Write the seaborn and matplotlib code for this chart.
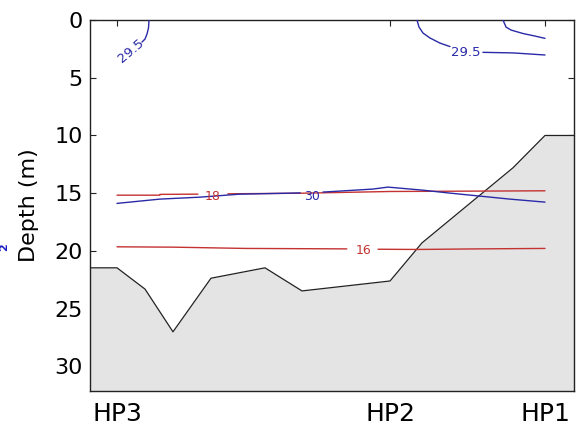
import numpy as np
import pandas as pd
import matplotlib
matplotlib.use("Agg")
import matplotlib.pyplot as plt
import seaborn as sns

# ---------------- data ----------------
station_names = ["HP3", "HP2", "HP1"]
station_x = [0.0, 6.379, 10.0]

# bathymetry (bottom profile)
bathy_x = [-0.631, 0.0, 0.654, 1.308, 2.196, 3.458, 4.322, 6.379, 7.126, 7.780, 9.252, 10.0, 10.678]
bathy_depth = [21.46, 21.46, 23.3, 27.0, 22.36, 21.46, 23.46, 22.6, 19.3, 17.3, 12.8, 10.0, 10.0]

# temperature contours (red)
t18_left_x = [0.0, 1.0, 1.005, 1.89]
t18_left_d = [15.17, 15.17, 15.10, 15.08]
t18_right_x = [2.59, 4.3, 6.38, 10.0]
t18_right_d = [15.05, 15.0, 14.85, 14.79]

t16_left_x = [0.0, 1.31, 2.99, 5.37]
t16_left_d = [19.64, 19.67, 19.78, 19.82]
t16_right_x = [6.10, 7.01, 8.44, 10.0]
t16_right_d = [19.85, 19.87, 19.82, 19.78]

# salinity contours (blue)
s30_left_x = [0.0, 1.0, 1.94, 2.87, 4.11, 4.28]
s30_left_d = [15.88, 15.51, 15.34, 15.08, 14.99, 14.97]
s30_right_x = [4.81, 4.91, 5.98, 6.33, 7.13, 7.78, 8.48, 9.18, 10.0]
s30_right_d = [14.90, 14.88, 14.64, 14.47, 14.73, 14.99, 15.25, 15.51, 15.77]

s295a_x = [0.748, 0.736, 0.701, 0.654, 0.584]
s295a_d = [0.0, 0.69, 1.21, 1.65, 1.91]

s295b_left_x = [7.009, 7.056, 7.150, 7.313, 7.547, 7.780]
s295b_left_d = [0.0, 0.61, 1.13, 1.56, 2.0, 2.3]
s295b_right_x = [8.55, 9.252, 10.0]
s295b_right_d = [2.8, 2.85, 3.03]

s295c_x = [9.019, 9.089, 9.206, 9.486, 9.766, 10.0]
s295c_d = [0.0, 0.61, 0.87, 1.17, 1.39, 1.59]

labels_text = ["18", "30", "16", "29.5", "29.5"]
labels_x = [2.24, 4.55, 5.75, 8.15, 0.33]
labels_d = [15.30, 15.25, 19.93, 2.85, 2.69]
labels_rot = [0, 0, 0, 0, 40]

# ---------------- style ----------------
BLUE = "#2a2aa8"
RED = "#c43232"
FILL = "#e4e4e4"

sns.set_theme(style="ticks", rc={
    "xtick.direction": "in", "ytick.direction": "in",
    "xtick.top": True, "ytick.right": True,
    "xtick.major.size": 4, "ytick.major.size": 4,
    "xtick.major.width": 0.8, "ytick.major.width": 0.8,
    "axes.edgecolor": "#222222", "axes.linewidth": 1.0,
})
plt.rcParams["font.family"] = ["DejaVu Sans"]

fig = plt.figure(figsize=(5.82, 4.34), dpi=100)
ax = fig.add_axes([90 / 582, 1 - 390.7 / 434, (574 - 90) / 582, (390.7 - 20) / 434])
ax.set_axisbelow(True)

# bottom fill
ax.fill_between(bathy_x, bathy_depth, 40, color=FILL, linewidth=0, zorder=1)
sns.lineplot(x=bathy_x, y=bathy_depth, ax=ax, color="#222222", linewidth=0.9,
             sort=False, estimator=None, zorder=2)

segments = [
    (t18_left_x, t18_left_d, RED), (t18_right_x, t18_right_d, RED),
    (t16_left_x, t16_left_d, RED), (t16_right_x, t16_right_d, RED),
    (s30_left_x, s30_left_d, BLUE), (s30_right_x, s30_right_d, BLUE),
    (s295a_x, s295a_d, BLUE),
    (s295b_left_x, s295b_left_d, BLUE), (s295b_right_x, s295b_right_d, BLUE),
    (s295c_x, s295c_d, BLUE),
]
for xs, ds, c in segments:
    sns.lineplot(x=xs, y=ds, ax=ax, color=c, linewidth=1.0, sort=False,
                 estimator=None, zorder=3)

label_colors = [RED, BLUE, RED, BLUE, BLUE]
label_sizes = [9, 9, 9, 9.5, 9.5]
for t, x, d, r, c, fs in zip(labels_text, labels_x, labels_d, labels_rot,
                             label_colors, label_sizes):
    ax.text(x, d, t, color=c, fontsize=fs, ha="center", va="center",
            rotation=r, zorder=4)

ax.set_xlim(-0.631, 10.678)
ax.set_ylim(32.1, 0)
ax.set_xticks(station_x)
ax.set_xticklabels(station_names)
ax.set_yticks([0, 5, 10, 15, 20, 25, 30])
ax.tick_params(axis="x", labelsize=18, pad=8, colors="#222222", labelcolor="black")
ax.tick_params(axis="y", labelsize=16, pad=5, colors="#222222", labelcolor="black")
ax.set_xlabel("")
ax.set_ylabel("Depth (m)", fontsize=16, color="black")
ax.yaxis.set_label_coords(-0.105, 0.5)
for s in ax.spines.values():
    s.set_visible(True)

# fragment of a neighbouring panel's label at the left edge
fig.text(4 / 582, 1 - 247 / 434, "2", color="#2020c0", fontsize=8,
         ha="center", va="center", rotation=90, fontweight="bold")

fig.savefig("out.png", dpi=100)
